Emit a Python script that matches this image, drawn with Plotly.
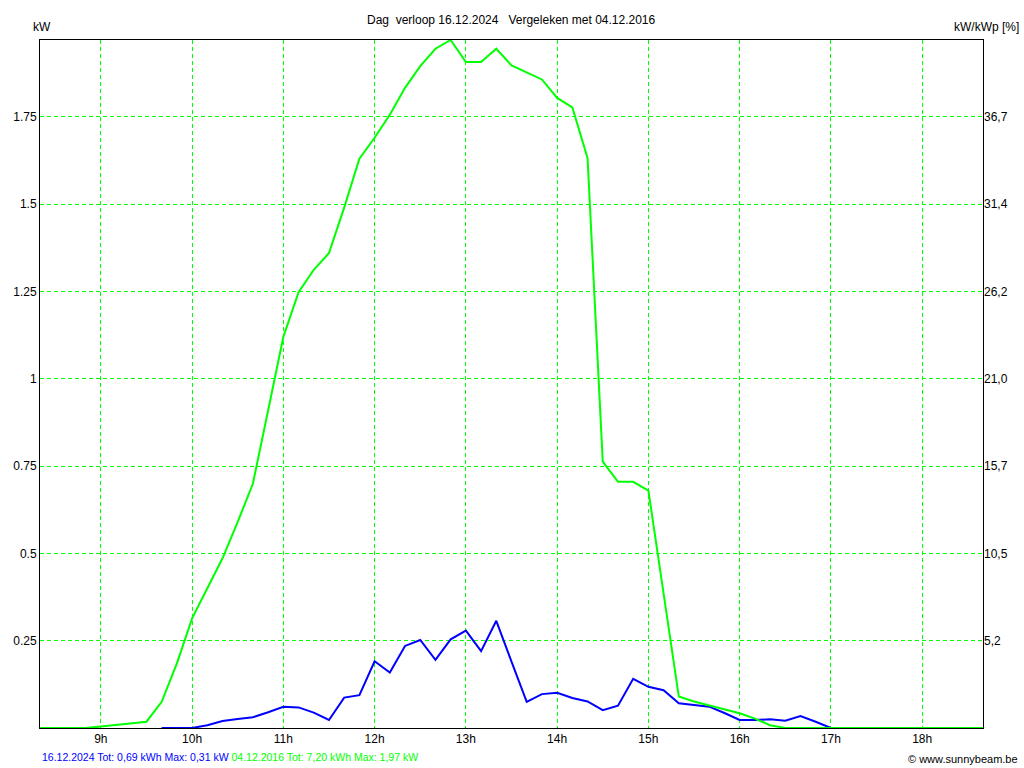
import pandas as pd
from plotly import graph_objects as go

# 10-minute samples, power in kW
green_start = '08:20'  # 04.12.2016
green_kw = [
    0, 0, 0, 0, 0.004, 0.008, 0.013, 0.018, 0.075, 0.185,
    0.314, 0.40, 0.486, 0.59, 0.70, 0.91, 1.12, 1.248, 1.312, 1.36,
    1.49, 1.63, 1.69, 1.756, 1.833, 1.895, 1.945, 1.97, 1.907, 1.907,
    1.945, 1.897, 1.876, 1.857, 1.804, 1.777, 1.632, 0.763, 0.705, 0.705,
    0.68, 0.385, 0.09, 0.076, 0.064, 0.054, 0.042, 0.027, 0.008, 0,
    0, 0, 0, 0, 0, 0, 0, 0, 0, 0,
    0, 0, 0,
]

blue_start = '09:40'  # 16.12.2024
blue_kw = [
    0, 0, 0, 0.008, 0.02, 0.026, 0.031, 0.045, 0.061, 0.059,
    0.044, 0.023, 0.087, 0.094, 0.191, 0.159, 0.235, 0.252, 0.195, 0.254,
    0.279, 0.22, 0.307, 0.19, 0.075, 0.097, 0.101, 0.086, 0.076, 0.051,
    0.064, 0.141, 0.118, 0.108, 0.071, 0.066, 0.061, 0.043, 0.023, 0.023,
    0.025, 0.021, 0.034, 0.018, 0,
]

hour_ticks = [9, 10, 11, 12, 13, 14, 15, 16, 17, 18]
hour_labels = ['9h', '10h', '11h', '12h', '13h', '14h', '15h', '16h', '17h', '18h']
kw_ticks = [0.25, 0.5, 0.75, 1, 1.25, 1.5, 1.75]
kw_labels = ['0.25', '0.5', '0.75', '1', '1.25', '1.5', '1.75']
pct_labels = ['5,2', '10,5', '15,7', '21,0', '26,2', '31,4', '36,7']

GREEN = '#00FF00'
BLUE = '#0000FF'
FONT = 'Liberation Sans, Arial, sans-serif'


def to_hours(start, n):
    times = pd.date_range('2000-01-01 ' + start, periods=n, freq='10min')
    return [t.hour + t.minute / 60 for t in times]


fig = go.Figure()

fig.add_trace(
    go.Scatter(
        x=to_hours(blue_start, len(blue_kw)),
        y=blue_kw,
        mode='lines',
        line=dict(color=BLUE, width=2),
        showlegend=False,
    )
)
fig.add_trace(
    go.Scatter(
        x=to_hours(green_start, len(green_kw)),
        y=green_kw,
        mode='lines',
        line=dict(color=GREEN, width=2),
        showlegend=False,
    )
)

grid = dict(showgrid=True, gridcolor=GREEN, gridwidth=1, griddash='4px,3px', zeroline=False)

fig.update_layout(
    width=1024,
    height=768,
    margin=dict(l=40, r=41, t=40, b=40),
    plot_bgcolor='white',
    paper_bgcolor='white',
    font=dict(family=FONT, size=12, color='black'),
    xaxis=dict(
        range=[8 + 20 / 60, 18 + 40 / 60],
        tickvals=hour_ticks,
        ticktext=hour_labels,
        showline=True,
        linecolor='black',
        linewidth=1,
        mirror=True,
        ticks='',
        **grid,
    ),
    yaxis=dict(
        range=[0, 1.97],
        tickvals=kw_ticks,
        ticktext=kw_labels,
        showline=True,
        linecolor='black',
        linewidth=1,
        mirror=True,
        ticks='',
        **grid,
    ),
    yaxis2=dict(
        range=[0, 1.97],
        overlaying='y',
        side='right',
        tickvals=kw_ticks,
        ticktext=pct_labels,
        showgrid=False,
        zeroline=False,
        ticks='',
    ),
)

# dummy trace so the right axis is drawn
fig.add_trace(go.Scatter(x=[None], y=[None], yaxis='y2', showlegend=False))

anno = dict(xref='paper', yref='paper', showarrow=False, font=dict(family=FONT, size=12))
fig.add_annotation(text='Dag&nbsp; verloop 16.12.2024&nbsp;&nbsp; Vergeleken met 04.12.2016',
                   x=0.5005, y=1.029, xanchor='center', yanchor='middle', **anno)
fig.add_annotation(text='kW', x=-0.0095, y=1.019, xanchor='left', yanchor='middle', **anno)
fig.add_annotation(text='kW/kWp [%]', x=1.0403, y=1.019, xanchor='right', yanchor='middle', **anno)
fig.add_annotation(
    text=f'<span style="color:{BLUE}">16.12.2024 Tot: 0,69 kWh Max: 0,31 kW</span> '
    f'<span style="color:{GREEN}">04.12.2016 Tot: 7,20 kWh Max: 1,97 kW</span>',
    x=0, y=-0.042, xanchor='left', yanchor='middle',
    xref='paper', yref='paper', showarrow=False, font=dict(family=FONT, size=10.5),
)
fig.add_annotation(text='© www.sunnybeam.be', x=1.0392, y=-0.045, xanchor='right', yanchor='middle',
                   xref='paper', yref='paper', showarrow=False, font=dict(family=FONT, size=11))

fig.write_html('out.html', config={'displayModeBar': False},
               post_script="document.body.style.margin='0';")
